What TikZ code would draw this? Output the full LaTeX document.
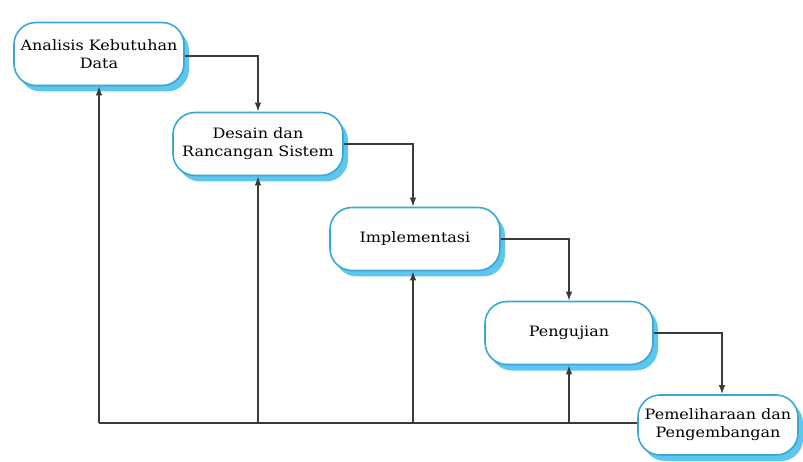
\documentclass[tikz,border=0pt]{standalone}
\usepackage{fontspec}
\setmainfont{DejaVu Serif}[FakeStretch=1.12]
\usetikzlibrary{arrows.meta,shadows}
\definecolor{boxline}{HTML}{3AA6D6}
\definecolor{boxshadow}{HTML}{5CC6EE}
\definecolor{conn}{HTML}{3A3A3A}
\begin{document}
\begin{tikzpicture}[x=1pt,y=-1pt,
  stagebox/.style={draw=boxline, line width=1.6pt, fill=white, rounded corners=22pt,
    minimum width=170pt, minimum height=63pt, align=center, inner sep=1pt,
    font=\fontsize{14.3}{18}\selectfont, text=black,
    drop shadow={shadow xshift=5pt, shadow yshift=-6pt, fill=boxshadow, opacity=1}},
  conline/.style={draw=conn, line width=1.3pt},
  conarrow/.style={conline, -{Latex[length=9pt,width=6.5pt]}}
]
\useasboundingbox (0,0) rectangle (803,462);
\node[stagebox] (b1) at (99,54) {Analisis Kebutuhan\\Data};
\node[stagebox] (b2) at (258,144) {Desain dan\\Rancangan Sistem};
\node[stagebox] (b3) at (415,239) {Implementasi};
\node[stagebox, minimum width=168pt] (b4) at (569,333) {Pengujian};
\node[stagebox, minimum width=160pt, minimum height=60pt] (b5) at (718,425) {Pemeliharaan dan\\Pengembangan};
\coordinate (b3top) at ([xshift=-2pt]b3.north);
\coordinate (b3bot) at ([xshift=-2pt]b3.south);
\coordinate (b5top) at ([xshift=4pt]b5.north);
\coordinate (b5in) at ([yshift=2pt]b5.west);
% forward flow
\draw[conarrow] ([yshift=-2pt]b1.east) -| (b2.north);
\draw[conarrow] (b2.east) -| (b3top);
\draw[conarrow] (b3.east) -| (b4.north);
\draw[conarrow] (b4.east) -| (b5top);
% feedback
\coordinate (c1) at (b5in -| b1.south);
\coordinate (c2) at (b5in -| b2.south);
\coordinate (c3) at (b5in -| b3bot);
\coordinate (c4) at (b5in -| b4.south);
\draw[conline] (b5in) -- (c1);
\draw[conarrow] (c1) -- (b1.south);
\draw[conarrow] (c2) -- (b2.south);
\draw[conarrow] (c3) -- (b3bot);
\draw[conarrow] (c4) -- (b4.south);
\end{tikzpicture}
\end{document}
